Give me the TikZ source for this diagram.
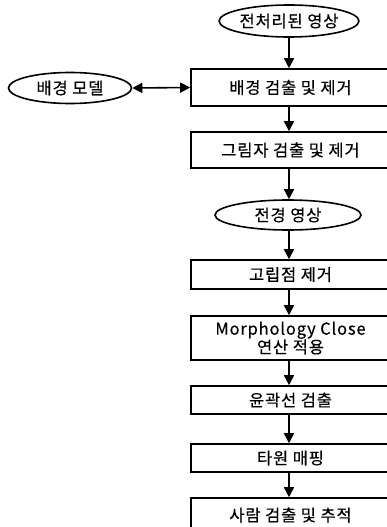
\documentclass[tikz,border=0pt]{standalone}
\usepackage{fontspec}
\setmainfont[LetterSpace=5, FakeBold=0.4]{Noto Sans CJK KR}
\usetikzlibrary{shapes.geometric,arrows.meta}
\begin{document}
\begin{tikzpicture}[x=1pt,y=-1pt,
  every node/.style={font=\fontsize{16.5}{18.5}\selectfont, inner sep=0pt},
  procbox/.style={draw, line width=1.6pt, minimum width=199pt, align=center},
  oval/.style={draw, ellipse, line width=1.6pt},
  flow/.style={line width=1.6pt, -{Triangle[length=10pt,width=10pt]}},
  both/.style={line width=1.6pt, {Triangle[length=10pt,width=10pt]}-{Triangle[length=10pt,width=10pt]}}]
\useasboundingbox (0,0) rectangle (386,527);
\coordinate (ax) at (289,0);
\node[oval, minimum width=136pt, minimum height=32pt] (e1) at (289,21) {전처리된 영상};
\node[procbox, minimum height=37pt] (b1) at (290.5,87.5) {배경 검출 및 제거};
\node[oval, minimum width=123pt, minimum height=31pt] (bm) at (70,88) {배경 모델};
\node[procbox, minimum height=36pt] (b2) at (290.5,150) {그림자 검출 및 제거};
\node[oval, minimum width=146pt, minimum height=30pt] (e2) at (288,215) {전경 영상};
\node[procbox, minimum height=29pt] (b3) at (290.5,274.5) {고립점 제거};
\node[procbox, minimum height=44pt] (b4) at (290.5,338) {Morphology Close\\연산 적용};
\node[procbox, minimum height=28pt] (b5) at (290.5,400) {윤곽선 검출};
\node[procbox, minimum height=28pt] (b6) at (290.5,458) {타원 매핑};
\node[procbox, minimum height=34pt] (b7) at (290.5,515) {사람 검출 및 추적};
\draw[flow] (e1.south -| ax) -- (b1.north -| ax);
\draw[both] (bm.east) -- (b1.west);
\draw[flow] (b1.south -| ax) -- (b2.north -| ax);
\draw[flow] (b2.south -| ax) -- (e2.north -| ax);
\draw[flow] (e2.south -| ax) -- (b3.north -| ax);
\draw[flow] (b3.south -| ax) -- (b4.north -| ax);
\draw[flow] (b4.south -| ax) -- (b5.north -| ax);
\draw[flow] (b5.south -| ax) -- (b6.north -| ax);
\draw[flow] (b6.south -| ax) -- (b7.north -| ax);
\end{tikzpicture}
\end{document}
